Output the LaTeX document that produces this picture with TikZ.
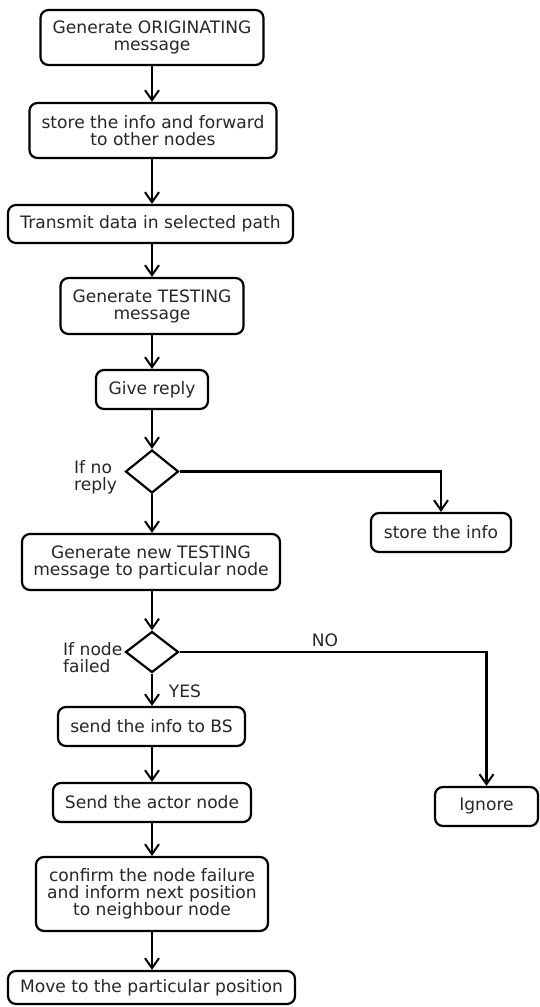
\documentclass[tikz,border=0pt]{standalone}
\usepackage{fontspec}
\setmainfont{DejaVu Sans}
\usetikzlibrary{shapes.geometric,arrows.meta}
\begin{document}
\begin{tikzpicture}[x=1pt,y=-1pt,
  every node/.style={font=\fontsize{17.1}{17}\selectfont, text=black!85},
  box/.style={draw, line width=2.2pt, rounded corners=8pt, align=center, inner sep=0pt},
  dec/.style={draw, diamond, line width=2.2pt, inner sep=0pt, minimum width=53pt, minimum height=43pt},
  arr/.style={line width=2.2pt, -{Straight Barb[length=10pt,width=14pt,line width=2pt]}},
  lbl/.style={align=left, inner sep=0pt}]
\useasboundingbox (0,0) rectangle (539,1007);
\node[box, minimum width=223pt, minimum height=55pt] (o1) at (152,37.5) {Generate ORIGINATING\\message};
\node[box, minimum width=247pt, minimum height=55pt] (o2) at (153,130.5) {store the info and forward\\to other nodes};
\node[box, minimum width=285pt, minimum height=38pt] (o3) at (150.5,224) {Transmit data in selected path};
\node[box, minimum width=183pt, minimum height=56pt] (o4) at (152,306) {Generate TESTING\\message};
\node[box, minimum width=112pt, minimum height=39pt] (o5) at (152,389.5) {Give reply};
\node[dec] (d1) at (152,471.5) {};
\node[lbl, anchor=west] (l1) at (74,477) {If no\\reply};
\node[box, minimum width=140pt, minimum height=39pt] (st) at (441,532.5) {store the info};
\node[box, minimum width=258pt, minimum height=56pt] (o6) at (151,562) {Generate new TESTING\\message to particular node};
\node[dec, minimum height=41pt] (d2) at (152,652) {};
\node[lbl, anchor=west] (l2) at (63,657.5) {If node\\failed};
\node[lbl] (yes) at (185,691) {YES};
\node[lbl] (no) at (325,640) {NO};
\node[box, minimum width=187pt, minimum height=39pt] (bs) at (151.5,726.5) {send the info to BS};
\node[box, minimum width=198pt, minimum height=39pt] (ac) at (152,802.5) {Send the actor node};
\node[box, minimum width=103pt, minimum height=39pt] (ig) at (486.5,806.5) {Ignore};
\node[box, minimum width=232pt, minimum height=74pt] (cf) at (152,894) {confirm the node failure\\and inform next position\\to neighbour node};
\node[box, minimum width=287pt, minimum height=33pt] (mv) at (151.5,987.5) {Move to the particular position};
\draw[arr] (o1.south) -- (o1.south |- o2.north);
\draw[arr] (o1.south |- o2.south) -- (o1.south |- o3.north);
\draw[arr] (o1.south |- o3.south) -- (o1.south |- o4.north);
\draw[arr] (o4.south) -- (o5.north);
\draw[arr] (o5.south) -- (d1.north);
\draw[arr] (d1.south) -- (d1.south |- o6.north);
\draw[arr] (d1.east) -| (st.north);
\draw[arr] (d2.north |- o6.south) -- (d2.north);
\draw[arr] (d2.south) -- (d2.south |- bs.north);
\draw[arr] (d2.east) -| (ig.north);
\draw[arr] (d2.south |- bs.south) -- (d2.south |- ac.north);
\draw[arr] (ac.south) -- (cf.north);
\draw[arr] (cf.south) -- (cf.south |- mv.north);
\end{tikzpicture}
\end{document}
